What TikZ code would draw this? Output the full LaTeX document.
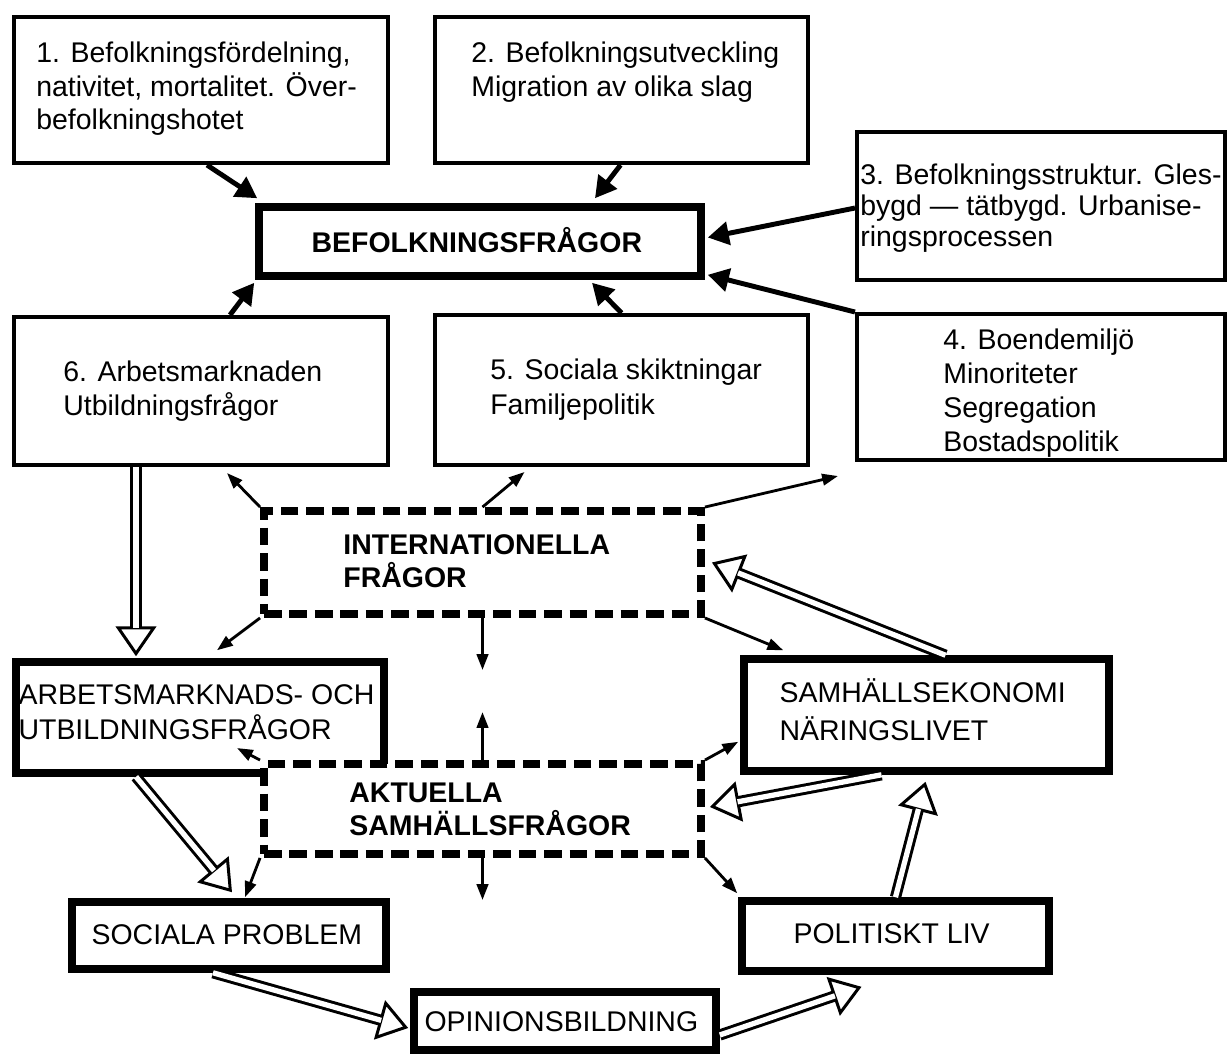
\documentclass[tikz,border=0pt]{standalone}
\usepackage{fontspec}
\setmainfont{Liberation Sans}
\usetikzlibrary{arrows.meta,calc,fit}

\tikzset{
  topic/.style={draw, line width=2.3pt, inner sep=0pt},
  mainbox/.style={draw, line width=4.3pt, inner sep=0pt},
  field/.style={draw, line width=4.5pt, dash pattern=on 10pt off 4.5pt, fill=white, inner sep=0pt},
  txt/.style={anchor=north west, inner sep=0pt, align=left, font=\fontsize{16.2pt}{#1}\selectfont},
  txt/.default=18.7pt,
  lbl/.style={anchor=base west, inner sep=0pt, font=\fontsize{16.2pt}{18.7pt}\selectfont},
  feed/.style={line width=2.8pt, -{Triangle[length=12pt,width=13pt]}},
  link/.style={line width=1.6pt, -{Triangle[length=9pt,width=6.5pt]}},
  hollowhead/.style={line width=1.7pt, -{Triangle[open,fill=white,length=17pt,width=23pt]}},
  hollowshaft/.style={double, double distance=3pt, line width=1.7pt, shorten >=16pt}
}

% block arrow: open head, double shaft
\newcommand{\hollowarrow}[2]{%
  \draw[hollowhead] #1 -- #2;
  \draw[hollowshaft] #1 -- #2;
}

\begin{document}
\begin{tikzpicture}[x=0.02cm, y=-0.02cm]
\useasboundingbox (0,0) rectangle (1228,1063);

% numbered topics
\node[topic, fit={(14,17) (388,163)}] (bef1) {};
\node[topic, fit={(435,17) (808,163)}] (bef2) {};
\node[topic, fit={(857,132) (1225,280)}] (bef3) {};
\node[topic, fit={(857,314) (1225,460)}] (bef4) {};
\node[topic, fit={(435,315) (808,465)}] (bef5) {};
\node[topic, fit={(14,317) (388,465)}] (bef6) {};

\node[mainbox, fit={(259,207) (701,276)}] (befolk) {};
\node[mainbox, fit={(16,662) (384,773)}] (arbm) {};
\node[mainbox, fit={(744,659) (1109,771)}] (ekon) {};
\node[mainbox, fit={(72,902) (386,969)}] (socp) {};
\node[mainbox, fit={(742,901) (1049,971)}] (polit) {};
\node[mainbox, fit={(414,992) (716,1050)}] (opin) {};

\node[field, fit={(264,511) (701,614)}] (intl) {};
\node[field, fit={(264,764) (701,854)}] (akt) {};

% texts
\node[txt, txt=18.9pt] (t1) at ($(bef1.north west)+(24,27)$) {1. Befolkningsfördelning,\\nativitet, mortalitet. Över-\\befolkningshotet};
\node[txt, txt=19.3pt] (t2) at ($(bef2.north west)+(38,27)$) {2. Befolkningsutveckling\\Migration av olika slag};
\node[txt, txt=17.6pt] (t3) at ($(bef3.north west)+(5,34)$) {3. Befolkningsstruktur. Gles-\\bygd — tätbygd. Urbanise-\\ringsprocessen};
\node[txt, txt=19.3pt] (t4) at ($(bef4.north west)+(88,17)$) {4. Boendemiljö\\Minoriteter\\Segregation\\Bostadspolitik};
\node[txt, txt=19.5pt] (t5) at ($(bef5.north west)+(57,46)$) {5. Sociala skiktningar\\Familjepolitik};
\node[txt, txt=19.3pt] (t6) at ($(bef6.north west)+(51,46)$) {6. Arbetsmarknaden\\Utbildningsfrågor};
\node[lbl] (tbefolk) at ($(befolk.north west)+(56,49)$) {\bfseries BEFOLKNINGSFRÅGOR};
\node[txt, txt=18.7pt] (tintl) at ($(intl.north west)+(83,27)$) {\bfseries INTERNATIONELLA\\\bfseries FRÅGOR};
\node[txt] (takt) at ($(akt.north west)+(89,23)$) {\bfseries AKTUELLA\\\bfseries SAMHÄLLSFRÅGOR};
\node[txt, txt=19.8pt] (tarbm) at ($(arbm.north west)+(6,26)$) {ARBETSMARKNADS- OCH\\UTBILDNINGSFRÅGOR};
\node[txt, txt=21.5pt] (tekon) at ($(ekon.north west)+(39,23)$) {SAMHÄLLSEKONOMI\\NÄRINGSLIVET};
\node[lbl] (tsocp) at ($(socp.north west)+(23,46)$) {SOCIALA PROBLEM};
\node[lbl] (tpolit) at ($(polit.north west)+(55,46)$) {POLITISKT LIV};
\node[lbl] (topin) at ($(opin.north west)+(14,43)$) {OPINIONSBILDNING};

% into BEFOLKNINGSFRÅGOR
\draw[feed] ($(bef1.south)+(6,0)$) -- ($(befolk.north west)+(2,-5)$);
\draw[feed] ($(bef2.south)+(-1,0)$) -- ($(befolk.north)+(115,-5)$);
\draw[feed] ($(bef3.west)+(0,2)$) -- ($(befolk.east)+(3,-4)$);
\draw[feed] (bef4.north west) -- ($(befolk.south east)+(3,-5)$);
\draw[feed] ($(bef6.north)+(29,0)$) -- ($(befolk.south west)+(-1,3)$);
\draw[feed] (bef5.north) -- ($(befolk.south)+(112,3)$);

% out of the two fields
\draw[link] (intl.north west) -- ($(bef6.south)+(26,6)$);
\draw[link] (intl.north) -- ($(bef5.south)+(-97,5)$);
\draw[link] (intl.north east) -- ($(bef4.south west)+(-17,14)$);
\draw[link] (intl.south west) -- ($(arbm.north)+(17,-8)$);
\draw[link] (intl.south) -- ($(intl.south)+(0,52)$);
\draw[link] (intl.south east) -- ($(ekon.north west)+(43,-5)$);
\draw[link] (akt.north) -- ($(akt.north)+(0,-48)$);
\draw[link] (akt.north west) -- ($(akt.north west)+(-23,-12)$);
\draw[link] (akt.north east) -- ($(ekon.south west)+(-2,-33)$);
\draw[link] (akt.south west) -- ($(socp.north)+(16,-1)$);
\draw[link] (akt.south) -- ($(akt.south)+(0,42)$);
\draw[link] (akt.south east) -- ($(polit.north west)+(-1,-4)$);

% the circuit
\hollowarrow{($(bef6.south)+(-65,0)$)}{($(arbm.north)+(-64,-2)$)}
\hollowarrow{($(arbm.south)+(-64,0)$)}{($(socp.north)+(3,-6)$)}
\hollowarrow{($(socp.south)+(-16,0)$)}{($(opin.west)+(-2,7)$)}
\hollowarrow{($(opin.east)+(0,14)$)}{($(polit.south)+(-34,12)$)}
\hollowarrow{(polit.north)}{($(ekon.south)+(-1,7)$)}
\hollowarrow{($(ekon.north)+(19,0)$)}{($(intl.east)+(7,0)$)}
\hollowarrow{($(ekon.south)+(-45,0)$)}{($(akt.east)+(5,-2)$)}
\end{tikzpicture}
\end{document}
